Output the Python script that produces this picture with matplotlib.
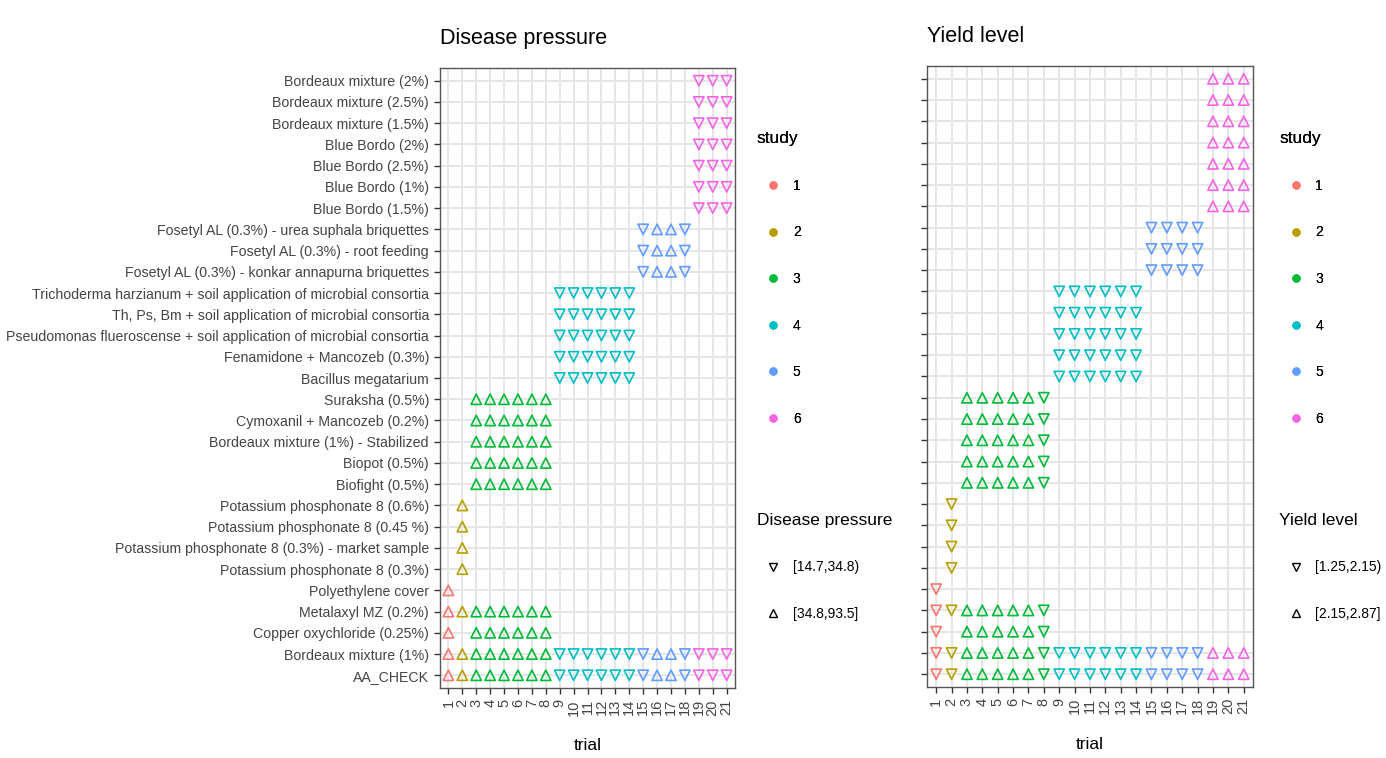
import matplotlib.pyplot as plt
from matplotlib.lines import Line2D

plt.rcParams['font.family'] = ['Liberation Sans', 'DejaVu Sans']

# treatments, bottom to top
treatments = [
    "AA_CHECK",
    "Bordeaux mixture (1%)",
    "Copper oxychloride (0.25%)",
    "Metalaxyl MZ (0.2%)",
    "Polyethylene cover",
    "Potassium phosphonate 8 (0.3%)",
    "Potassium phosphonate 8 (0.3%) - market sample",
    "Potassium phosphonate 8 (0.45 %)",
    "Potassium phosphonate 8 (0.6%)",
    "Biofight (0.5%)",
    "Biopot (0.5%)",
    "Bordeaux mixture (1%) - Stabilized",
    "Cymoxanil + Mancozeb (0.2%)",
    "Suraksha (0.5%)",
    "Bacillus megatarium",
    "Fenamidone + Mancozeb (0.3%)",
    "Pseudomonas flueroscense + soil application of microbial consortia",
    "Th, Ps, Bm + soil application of microbial consortia",
    "Trichoderma harzianum + soil application of microbial consortia",
    "Fosetyl AL (0.3%) - konkar annapurna briquettes",
    "Fosetyl AL (0.3%) - root feeding",
    "Fosetyl AL (0.3%) - urea suphala briquettes",
    "Blue Bordo (1.5%)",
    "Blue Bordo (1%)",
    "Blue Bordo (2.5%)",
    "Blue Bordo (2%)",
    "Bordeaux mixture (1.5%)",
    "Bordeaux mixture (2.5%)",
    "Bordeaux mixture (2%)",
]

trials = list(range(1, 22))
trial_study = [1, 2, 3, 3, 3, 3, 3, 3, 4, 4, 4, 4, 4, 4, 5, 5, 5, 5, 6, 6, 6]
# 1 = upper class (triangle up), 0 = lower class (triangle down)
disease_high = [1, 1, 1, 1, 1, 1, 1, 1, 0, 0, 0, 0, 0, 0, 0, 1, 1, 0, 0, 0, 0]
yield_high = [0, 0, 1, 1, 1, 1, 1, 0, 0, 0, 0, 0, 0, 0, 0, 0, 0, 0, 1, 1, 1]

common = ["AA_CHECK", "Bordeaux mixture (1%)"]
study_treatments = {
    1: common + ["Copper oxychloride (0.25%)", "Metalaxyl MZ (0.2%)", "Polyethylene cover"],
    2: common + ["Metalaxyl MZ (0.2%)", "Potassium phosphonate 8 (0.3%)",
                 "Potassium phosphonate 8 (0.3%) - market sample",
                 "Potassium phosphonate 8 (0.45 %)", "Potassium phosphonate 8 (0.6%)"],
    3: common + ["Copper oxychloride (0.25%)", "Metalaxyl MZ (0.2%)", "Biofight (0.5%)",
                 "Biopot (0.5%)", "Bordeaux mixture (1%) - Stabilized",
                 "Cymoxanil + Mancozeb (0.2%)", "Suraksha (0.5%)"],
    4: common + ["Bacillus megatarium", "Fenamidone + Mancozeb (0.3%)",
                 "Pseudomonas flueroscense + soil application of microbial consortia",
                 "Th, Ps, Bm + soil application of microbial consortia",
                 "Trichoderma harzianum + soil application of microbial consortia"],
    5: common + ["Fosetyl AL (0.3%) - konkar annapurna briquettes",
                 "Fosetyl AL (0.3%) - root feeding",
                 "Fosetyl AL (0.3%) - urea suphala briquettes"],
    6: common + ["Blue Bordo (1.5%)", "Blue Bordo (1%)", "Blue Bordo (2.5%)", "Blue Bordo (2%)",
                 "Bordeaux mixture (1.5%)", "Bordeaux mixture (2.5%)", "Bordeaux mixture (2%)"],
}

studies = [1, 2, 3, 4, 5, 6]
study_colors = ["#F8766D", "#B79F00", "#00BA38", "#00BFC4", "#619CFF", "#F564E3"]
disease_bins = ["[14.7,34.8)", "[34.8,93.5]"]
yield_bins = ["[1.25,2.15)", "[2.15,2.87]"]


def draw_panel(ax, levels, title, show_labels):
    for t, s, up in zip(trials, trial_study, levels):
        ys = [treatments.index(name) for name in study_treatments[s]]
        ax.scatter([t] * len(ys), ys, marker='^' if up else 'v', s=55,
                   facecolors='none', edgecolors=study_colors[s - 1],
                   linewidths=1.2, zorder=3)
    ax.set_xlim(0.4, 21.6)
    ax.set_ylim(-0.6, len(treatments) - 0.4)
    ax.set_xticks(trials)
    ax.set_xticklabels([str(t) for t in trials], rotation=90, fontsize=10.5)
    ax.set_yticks(range(len(treatments)))
    if show_labels:
        ax.set_yticklabels(treatments, fontsize=10.2)
    else:
        ax.set_yticklabels([])
    ax.grid(True, color='#E6E6E6', linewidth=1.4, zorder=0)
    ax.set_axisbelow(True)
    for sp in ax.spines.values():
        sp.set_color('#555555')
        sp.set_linewidth(1.0)
    ax.tick_params(length=4.5, width=1.0, color='#333333', labelcolor='#444444', pad=3.5)
    ax.set_xlabel('trial', fontsize=12.5, labelpad=16)
    ax.set_title(title, loc='left', fontsize=15.5, pad=17)


def draw_legends(x, shape_title, bins):
    opts = dict(loc='upper left', frameon=False, fontsize=10, title_fontsize=12.5,
                labelspacing=2.35, handlelength=2.4, handletextpad=0.2,
                borderpad=0, borderaxespad=0, alignment='left')
    study_handles = [Line2D([], [], marker='o', linestyle='none', markersize=5,
                            markerfacecolor=c, markeredgecolor=c) for c in study_colors]
    leg1 = fig.legend(study_handles, [str(s) for s in studies], title='study',
                      bbox_to_anchor=(x, 0.827), **opts)
    shape_handles = [Line2D([], [], marker=m, linestyle='none', markersize=6,
                            markerfacecolor='none', markeredgecolor='black',
                            markeredgewidth=1.0) for m in ['v', '^']]
    fig.legend(shape_handles, bins, title=shape_title,
               bbox_to_anchor=(x, 0.3235), **opts)
    fig.add_artist(leg1)


fig = plt.figure(figsize=(13.86, 7.58), dpi=100)
ax1 = fig.add_axes([0.3175, 0.0923, 0.2128, 0.818])
ax2 = fig.add_axes([0.6688, 0.0937, 0.2352, 0.8192])

draw_panel(ax1, disease_high, 'Disease pressure', True)
draw_panel(ax2, yield_high, 'Yield level', False)
draw_legends(0.546, 'Disease pressure', disease_bins)
draw_legends(0.923, 'Yield level', yield_bins)

fig.savefig('out.png', dpi=100)
